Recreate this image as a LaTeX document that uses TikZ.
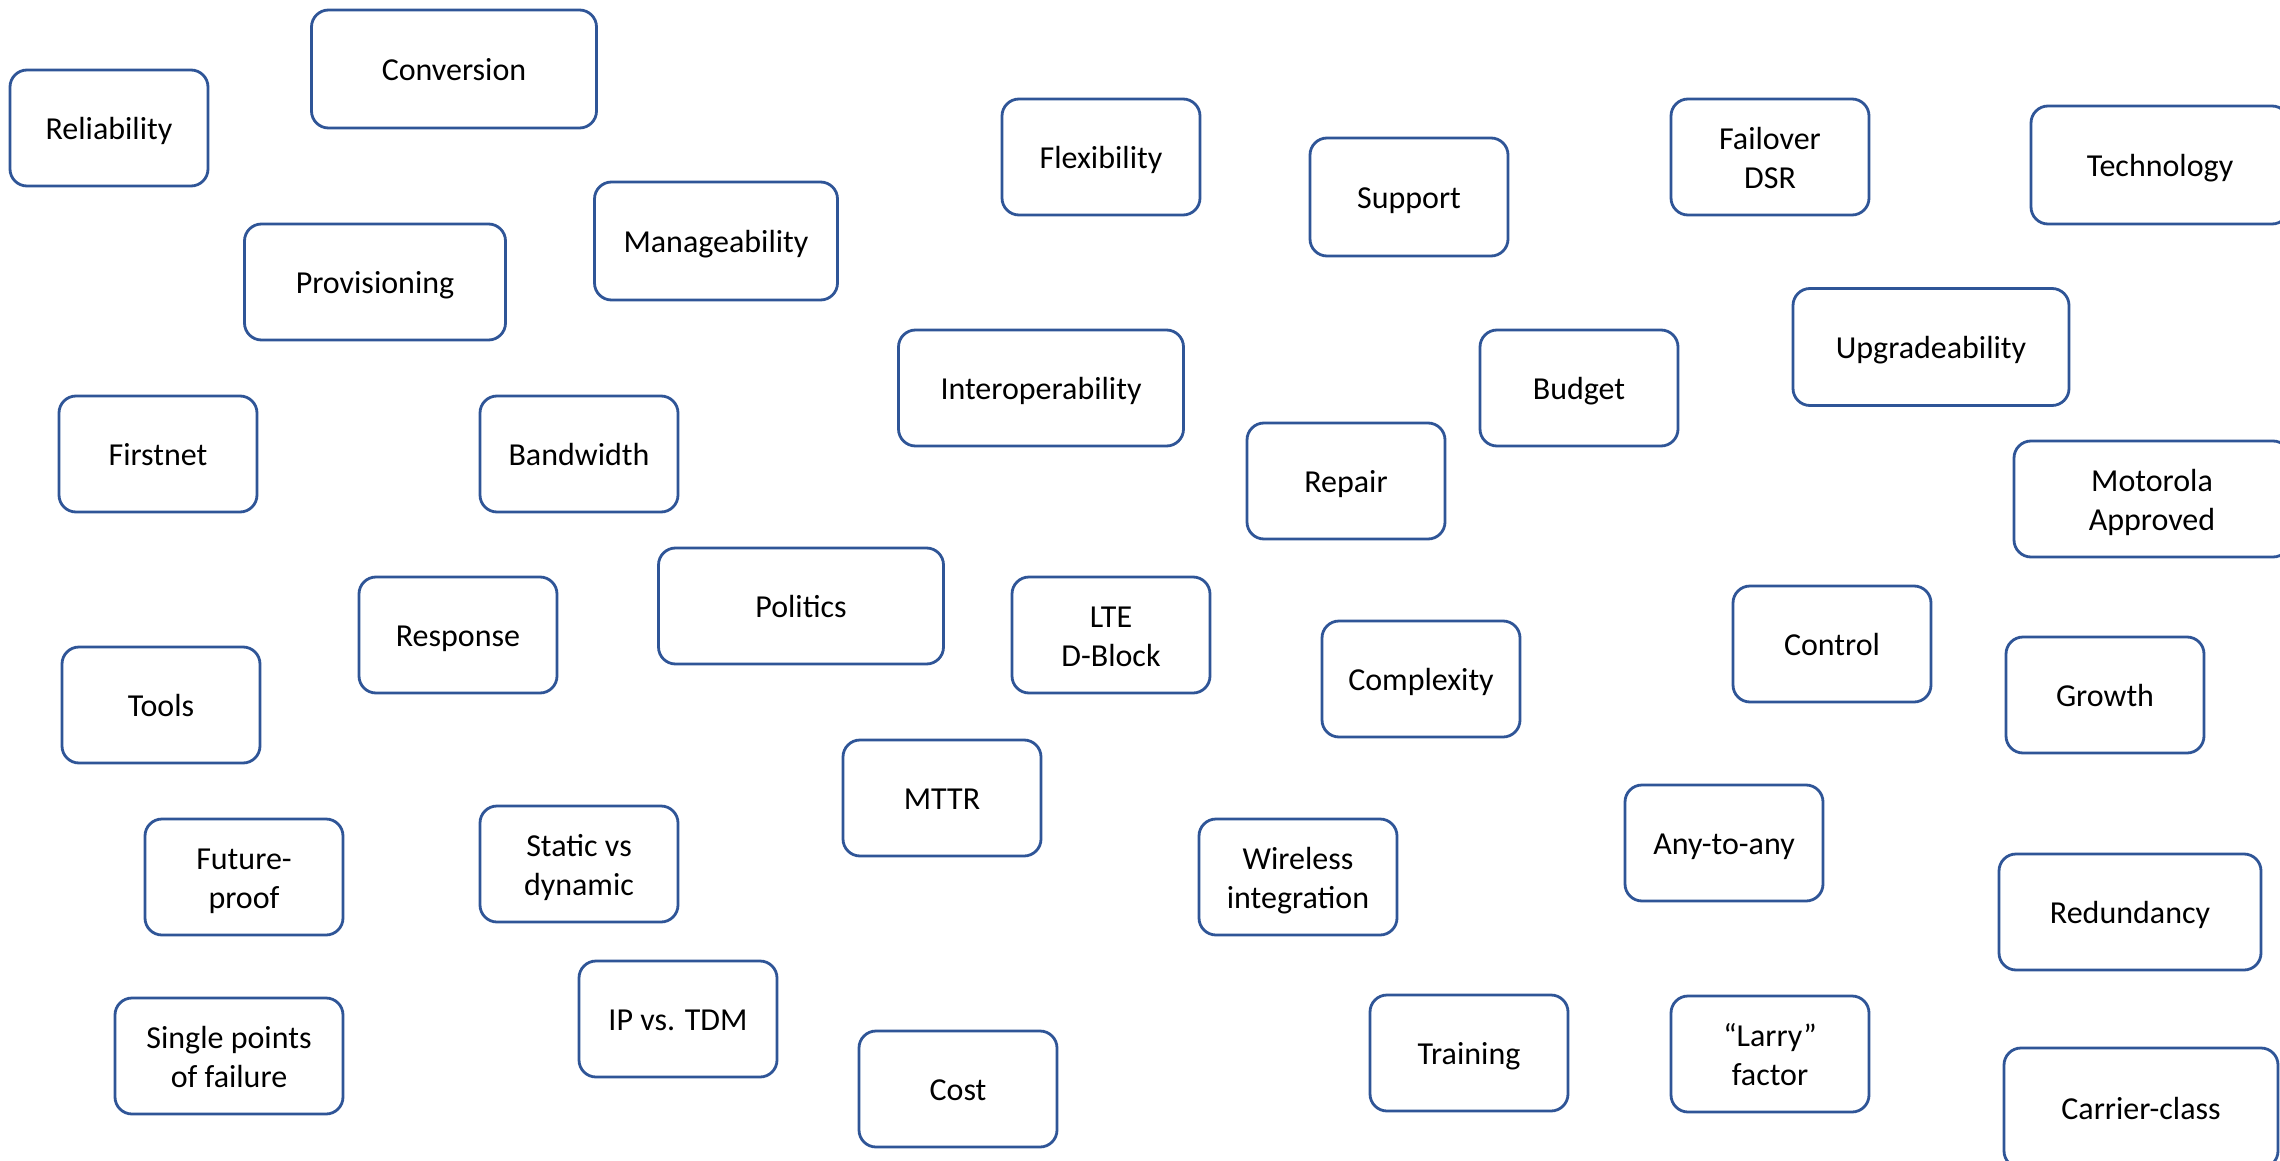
\documentclass[tikz,border=0pt]{standalone}
\usepackage{fontspec}
\setmainfont{Carlito}
\definecolor{boxblue}{RGB}{47,85,151}
% box label: centred lines on fixed struts, set a little below the middle
\newcommand\boxtxt[1]{\raisebox{-4pt}[\height][\depth]{\begin{tabular}{@{}c@{}}#1\end{tabular}}}
\tikzset{
  box/.style={draw=boxblue, line width=2.8pt, rounded corners=17pt, fill=white,
    minimum width=198pt, minimum height=116pt, text=black,
    inner sep=0pt, font=\fontsize{32}{39}\selectfont},
}
\begin{document}
\begin{tikzpicture}[x=1pt,y=-1pt]
\useasboundingbox (0,0) rectangle (2280,1161);
% left group
\node[box] (reliability) at (109,128) {\boxtxt{Reliability}};
\node[box, minimum width=285pt, minimum height=118pt] (conversion) at (454,69) {\boxtxt{Conversion}};
\node[box, minimum width=261pt] (provisioning) at (375,282) {\boxtxt{Provisioning}};
\node[box, minimum width=243pt, minimum height=118pt] (manage) at (716,241) {\boxtxt{Manageability}};
\node[box] (firstnet) at (158,454) {\boxtxt{Firstnet}};
\node[box] (bandwidth) at (579,454) {\boxtxt{Bandwidth}};
\node[box] (response) at (458,635) {\boxtxt{Response}};
\node[box, minimum width=285pt] (politics) at (801,606) {\boxtxt{Politics}};
\node[box] (tools) at (161,705) {\boxtxt{Tools}};
\node[box] (future) at (244,877) {\boxtxt{Future-\\proof}};
\node[box] (static) at (579,864) {\boxtxt{Static vs\\dynamic}};
\node[box] (iptdm) at (678,1019) {\boxtxt{IP vs. TDM}};
\node[box, minimum width=228pt] (spof) at (229,1056) {\boxtxt{Single points\\of failure}};
% middle group
\node[box] (flex) at (1101,157) {\boxtxt{Flexibility}};
\node[box, minimum height=118pt] (support) at (1409,197) {\boxtxt{Support}};
\node[box, minimum width=285pt] (interop) at (1041,388) {\boxtxt{Interoperability}};
\node[box] (budget) at (1579,388) {\boxtxt{Budget}};
\node[box] (repair) at (1346,481) {\boxtxt{Repair}};
\node[box] (lte) at (1111,635) {\boxtxt{LTE\\D-Block}};
\node[box] (complexity) at (1421,679) {\boxtxt{Complexity}};
\node[box] (mttr) at (942,798) {\boxtxt{MTTR}};
\node[box] (wireless) at (1298,877) {\boxtxt{Wireless\\integration}};
\node[box] (cost) at (958,1089) {\boxtxt{Cost}};
\node[box] (training) at (1469,1053) {\boxtxt{Training}};
% right group
\node[box] (failover) at (1770,157) {\boxtxt{Failover\\DSR}};
\node[box, minimum width=258pt, minimum height=118pt] (technology) at (2160,165) {\boxtxt{Technology}};
\node[box, minimum width=276pt, minimum height=117pt] (upgrade) at (1931,347) {\boxtxt{Upgradeability}};
\node[box, minimum width=276pt] (motorola) at (2152,499) {\boxtxt{Motorola\\Approved}};
\node[box] (control) at (1832,644) {\boxtxt{Control}};
\node[box] (growth) at (2105,695) {\boxtxt{Growth}};
\node[box] (anytoany) at (1724,843) {\boxtxt{Any-to-any}};
\node[box, minimum width=262pt] (redundancy) at (2130,912) {\boxtxt{Redundancy}};
\node[box] (larry) at (1770,1054) {\boxtxt{“Larry”\\factor}};
\node[box, minimum width=274pt, minimum height=120pt] (carrier) at (2141,1108) {\boxtxt{Carrier-class}};
\end{tikzpicture}
\end{document}
